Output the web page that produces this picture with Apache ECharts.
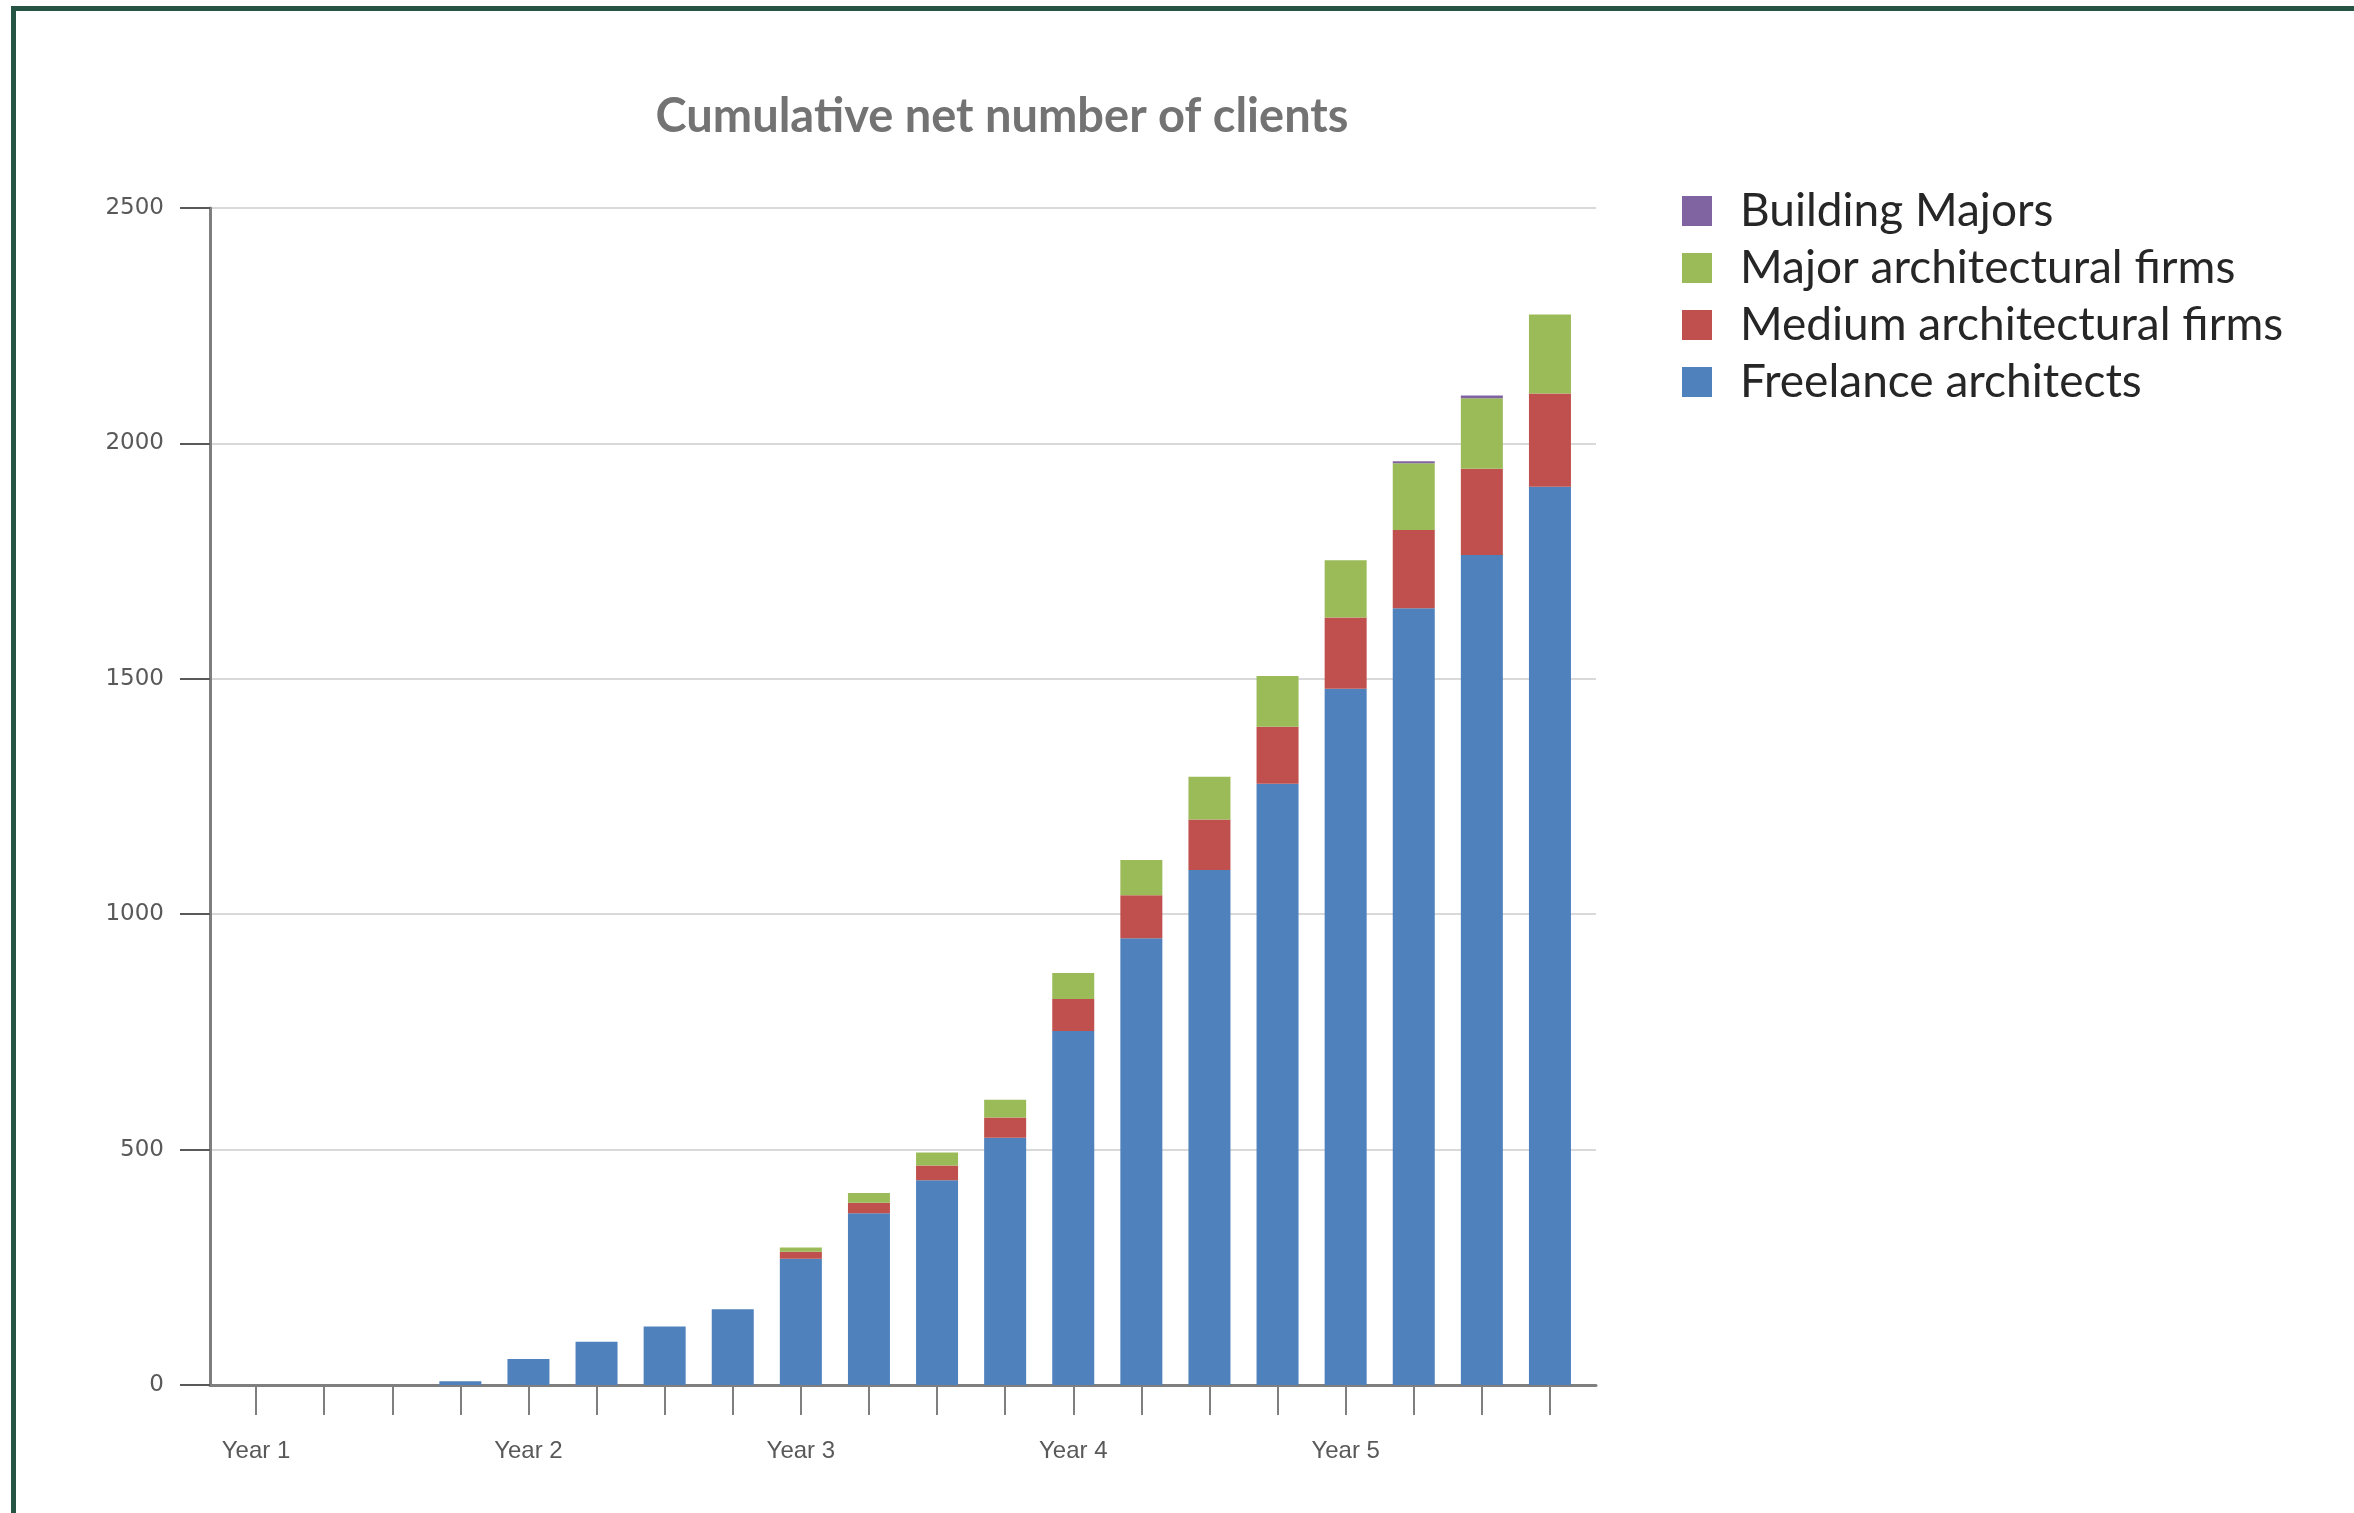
<!DOCTYPE html>
<html>
<head>
<meta charset="utf-8">
<script src="https://cdn.jsdelivr.net/npm/echarts@6/dist/echarts.min.js"></script>
<style>
  html, body { margin: 0; padding: 0; width: 2354px; height: 1513px; overflow: hidden; background: #ffffff; }
  #chart { position: absolute; left: 0; top: 0; width: 2354px; height: 1513px; }
  #frame { position: absolute; left: 11px; top: 6px; width: 2400px; height: 1600px;
           border-left: 5px solid #255445; border-top: 5px solid #255445; pointer-events: none; }
</style>
</head>
<body>
<div id="chart"></div>
<div id="frame"></div>
<script>
const titleText = 'Cumulative net number of clients';
const categories = ['Y1 Q1','Y1 Q2','Y1 Q3','Y1 Q4','Y2 Q1','Y2 Q2','Y2 Q3','Y2 Q4',
                    'Y3 Q1','Y3 Q2','Y3 Q3','Y3 Q4','Y4 Q1','Y4 Q2','Y4 Q3','Y4 Q4',
                    'Y5 Q1','Y5 Q2','Y5 Q3','Y5 Q4'];
const xTickLabels = ['Year 1','','','','Year 2','','','','Year 3','','','',
                     'Year 4','','','','Year 5','','',''];
const yMin = 0, yMax = 2500, yStep = 500;

const freelance = [0,0,0,8,55,92,124,161,268,365,435,525,752,949,1094,1277,1479,1650,1763,1908];
const medium    = [0,0,0,0,0,0,0,0,15,22,31,43,68,91,107,121,151,166,183,198];
const major     = [0,0,0,0,0,0,0,0,9,21,28,38,55,75,91,108,122,142,150,168];
const building  = [0,0,0,0,0,0,0,0,0,0,0,0,0,0,0,0,0,4,6,0];

const seriesNames = ['Freelance architects','Medium architectural firms','Major architectural firms','Building Majors'];
const seriesColors = ['#4f81bd','#c0504d','#9bbb59','#8064a2'];
const seriesData = [freelance, medium, major, building];
const legendOrder = ['Building Majors','Major architectural firms','Medium architectural firms','Freelance architects'];

const chart = echarts.init(document.getElementById('chart'));
const axisGray = '#7f7f7f';
const option = {
  animation: false,
  backgroundColor: '#ffffff',
  title: {
    text: titleText,
    left: 997, top: 88, textAlign: 'center',
    textStyle: { fontFamily: 'Lato', fontSize: 47, fontWeight: 'bold', color: '#737373' }
  },
  legend: {
    data: legendOrder,
    left: 1677, top: 183, orient: 'vertical',
    itemWidth: 30, itemHeight: 30, itemGap: 11, icon: 'rect',
    textStyle: { fontFamily: 'Lato', fontSize: 46, color: '#262626', lineHeight: 40, padding: [0,0,0,23] }
  },
  grid: [
    { left: 210, right: 758, top: 208, bottom: 128 },
    { left: 222, right: 770, top: 208, bottom: 128 }
  ],
  xAxis: [
    { type: 'value', gridIndex: 0, min: 0, max: 1,
      axisLine: { show: true, lineStyle: { color: axisGray, width: 3 } },
      axisTick: { show: false }, axisLabel: { show: false }, splitLine: { show: false } },
    { type: 'category', gridIndex: 1, data: categories, boundaryGap: true,
      axisLine: { show: false },
      axisTick: { show: true, alignWithLabel: true, interval: 0, length: 30,
                  lineStyle: { color: axisGray, width: 2 } },
      axisLabel: { interval: 0, margin: 54, formatter: (v, i) => xTickLabels[i],
                   fontFamily: 'Liberation Sans', fontSize: 24, color: '#595959' },
      splitLine: { show: false } }
  ],
  yAxis: [
    { type: 'value', gridIndex: 0, min: yMin, max: yMax, interval: yStep,
      axisLine: { show: true, lineStyle: { color: axisGray, width: 3 } },
      axisTick: { show: true, length: 30, lineStyle: { color: '#595959', width: 2 } },
      axisLabel: { margin: 46, fontFamily: 'DejaVu Sans', fontSize: 23, color: '#595959',
                   formatter: v => String(v) },
      splitLine: { show: true, lineStyle: { color: '#d9d9d9', width: 2 } } },
    { type: 'value', gridIndex: 1, min: yMin, max: yMax, interval: yStep, show: false,
      splitLine: { show: false } }
  ],
  series: seriesNames.map((name, k) => ({
    name: name, type: 'bar', stack: 'total',
    xAxisIndex: 1, yAxisIndex: 1,
    barWidth: 42,
    itemStyle: { color: seriesColors[k] },
    data: seriesData[k]
  }))
};
chart.setOption(option);
</script>
</body>
</html>
